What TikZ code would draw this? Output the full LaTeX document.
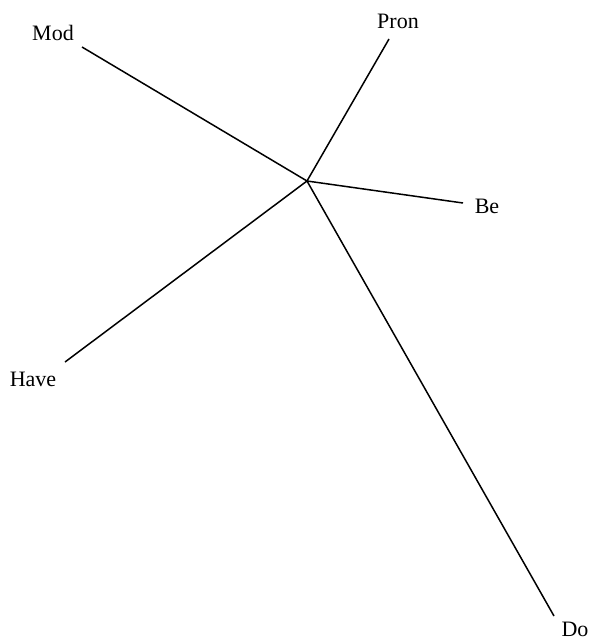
\documentclass[tikz,border=0pt]{standalone}
\usepackage{fontspec}
\setmainfont{Liberation Serif}
\begin{document}
\begin{tikzpicture}[x=1pt,y=-1pt,
  lbl/.style={font=\fontsize{22}{26}\selectfont, inner sep=0pt},
  edge/.style={line width=1.5pt, black}]
\useasboundingbox (0,0) rectangle (591,640);
\coordinate (c) at (307,181);
\coordinate (emod) at (82,47);
\coordinate (epron) at (389,39);
\coordinate (ebe) at (463,203);
\coordinate (ehave) at (65,362);
\coordinate (edo) at (554,616);
\node[lbl] (mod) at (53,33) {Mod};
\node[lbl] (pron) at (398,21) {Pron};
\node[lbl] (be) at (487,206) {Be};
\node[lbl] (have) at (33,379) {Have};
\node[lbl] (do) at (575,629) {Do};
\draw[edge] (c) -- (emod);
\draw[edge] (c) -- (epron);
\draw[edge] (c) -- (ebe);
\draw[edge] (c) -- (ehave);
\draw[edge] (c) -- (edo);
\end{tikzpicture}
\end{document}
